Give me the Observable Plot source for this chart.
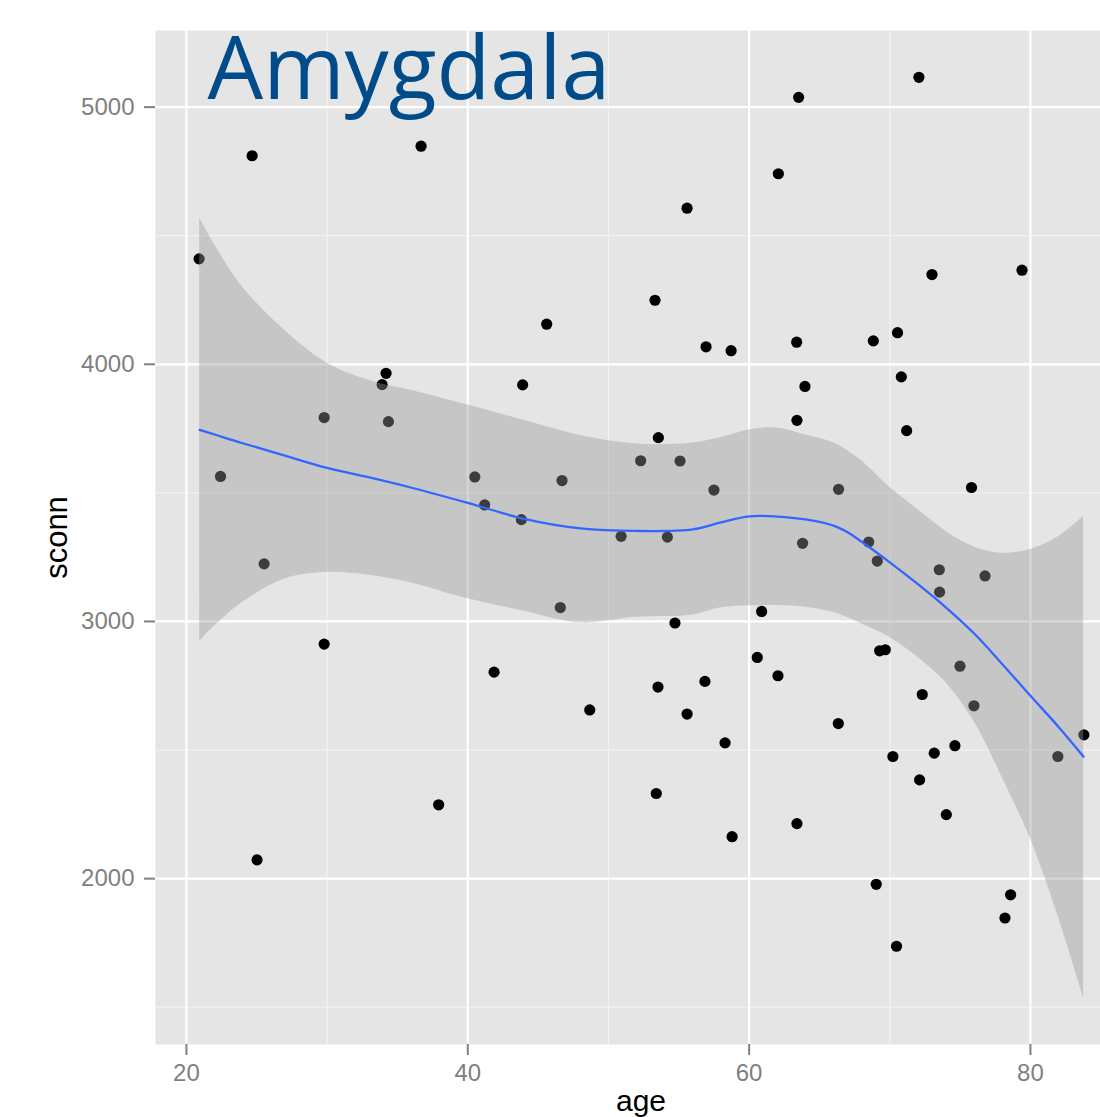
<!DOCTYPE html>
<html>
<head>
<meta charset="utf-8">
<script src="https://cdn.jsdelivr.net/npm/d3@7"></script>
<script src="https://cdn.jsdelivr.net/npm/@observablehq/plot@0.6"></script>
<style>
  html, body { margin: 0; padding: 0; background: #ffffff; overflow: hidden; }
  #chart svg { display: block; }
</style>
</head>
<body>
<div id="chart"></div>
<script>
// Scatter data: age vs sconn
const ages = [24.67, 36.68, 20.9, 34.19, 62.08, 55.59, 45.61, 53.31, 56.94, 58.72,
  63.52, 72.07, 73.0, 79.4, 63.38, 68.83, 70.55,
  33.91, 29.79, 34.36, 22.42, 40.5, 25.52, 29.79,
  43.9, 53.55, 46.7, 52.29, 55.09, 57.5, 41.2, 43.81, 50.9, 54.19, 46.58, 54.73, 60.89,
  41.87, 60.58, 62.05, 53.52, 56.86, 48.67, 55.59,
  58.29, 53.4, 58.79,
  63.97, 70.82, 63.4, 71.2, 66.36, 75.81, 63.8, 68.5, 69.11, 73.52, 76.77, 73.54,
  69.28, 69.68, 74.99, 72.31, 75.98,
  66.34, 83.8, 81.95, 70.22, 73.16, 74.63, 72.12, 74.02, 63.4, 69.04, 78.59, 78.19, 70.48,
  37.93, 25.02];
const sconn = [4811, 4848, 4410, 3965, 4741, 4607, 4156, 4249, 4068, 4053,
  5038, 5116, 4349, 4366, 4086, 4091, 4123,
  3921, 3793, 3777, 3564, 3562, 3224, 2912,
  3920, 3715, 3548, 3625, 3624, 3511, 3453, 3396, 3331, 3328, 3054, 2994, 3039,
  2803, 2860, 2789, 2745, 2767, 2656, 2640,
  2528, 2331, 2163,
  3914, 3951, 3782, 3742, 3514, 3521, 3304, 3309, 3235, 3201, 3177, 3114,
  2886, 2890, 2826, 2716, 2672,
  2603, 2559, 2475, 2475, 2488, 2517, 2384, 2249, 2214, 1978, 1937, 1847, 1737,
  2287, 2073];

// Smooth (loess) curve and confidence band
const bandAge = [20.94, 22, 24, 27, 30, 33, 36, 40, 44, 48, 52, 56, 58, 60, 62, 64, 66, 67, 68, 70, 72, 74, 76, 78, 80, 82, 83.78];
const bandFit = [3745, 3727, 3693, 3645, 3597, 3560, 3520, 3461, 3399, 3362, 3352, 3358, 3385, 3409, 3408, 3397, 3373, 3347, 3310, 3230, 3145, 3054, 2953, 2834, 2711, 2590, 2474];
const bandHi  = [4570, 4465, 4300, 4131, 4004, 3937, 3898, 3842, 3782, 3723, 3690, 3694, 3715, 3745, 3752, 3725, 3695, 3664, 3625, 3522, 3435, 3350, 3290, 3265, 3280, 3330, 3409];
const bandLo  = [2922, 2982, 3075, 3165, 3191, 3180, 3150, 3088, 3040, 2995, 3016, 3025, 3053, 3061, 3062, 3055, 3035, 3015, 2990, 2938, 2860, 2762, 2610, 2392, 2155, 1848, 1537];

const xMajor = [20, 40, 60, 80];
const xMinor = [30, 50, 70];
const yMajor = [2000, 3000, 4000, 5000];
const yMinor = [1500, 2500, 3500, 4500];
const titleText = "Amygdala";
const xTitle = "age";
const yTitle = "sconn";

const points = ages.map((a, i) => ({age: a, sconn: sconn[i]}));
const band = bandAge.map((a, i) => ({age: a, fit: bandFit[i], lo: bandLo[i], hi: bandHi[i]}));

const plot = Plot.plot({
  width: 1100,
  height: 1117,
  marginLeft: 155,
  marginRight: 0,
  marginTop: 30,
  marginBottom: 73,
  style: {fontFamily: "'Liberation Sans', Arial, Helvetica, sans-serif", background: "#ffffff"},
  x: {domain: [17.8, 84.98]},
  y: {domain: [1355, 5298]},
  marks: [
    Plot.frame({fill: "#E5E5E5", stroke: null}),
    Plot.gridX(xMinor, {stroke: "#F2F2F2", strokeOpacity: 1, strokeWidth: 1.2}),
    Plot.gridY(yMinor, {stroke: "#F2F2F2", strokeOpacity: 1, strokeWidth: 1.2}),
    Plot.gridX(xMajor, {stroke: "#FFFFFF", strokeOpacity: 1, strokeWidth: 2.2}),
    Plot.gridY(yMajor, {stroke: "#FFFFFF", strokeOpacity: 1, strokeWidth: 2.2}),
    Plot.axisX(xMajor, {tickSize: 11, tickPadding: 8, color: "#7F7F7F", strokeWidth: 2, fontSize: 24, label: null, tickFormat: d => String(d)}),
    Plot.axisY(yMajor, {tickSize: 11, tickPadding: 10, color: "#7F7F7F", strokeWidth: 2, fontSize: 24, label: null, tickFormat: d => String(d)}),
    Plot.dot(points, {x: "age", y: "sconn", r: 5.6, fill: "#000000", stroke: null}),
    Plot.areaY(band, {x: "age", y1: "lo", y2: "hi", fill: "#999999", fillOpacity: 0.4, curve: "catmull-rom"}),
    Plot.line(band, {x: "age", y: "fit", stroke: "#3366FF", strokeWidth: 2.3, curve: "catmull-rom"}),
    Plot.text([titleText], {frameAnchor: "top-left", dx: 52, dy: 6, text: d => d, fontSize: 88,
      fontFamily: "'Open Sans', sans-serif", fill: "#004C8B", textAnchor: "start", lineAnchor: "top"}),
    Plot.text([xTitle], {frameAnchor: "bottom", dx: 13, dy: 66, text: d => d, fontSize: 30, fill: "#000000", lineAnchor: "bottom"}),
    Plot.text([yTitle], {frameAnchor: "left", dx: -98, text: d => d, fontSize: 31, fill: "#000000", rotate: -90, textAnchor: "middle", lineAnchor: "middle"})
  ]
});
document.getElementById("chart").appendChild(plot);
</script>
</body>
</html>
